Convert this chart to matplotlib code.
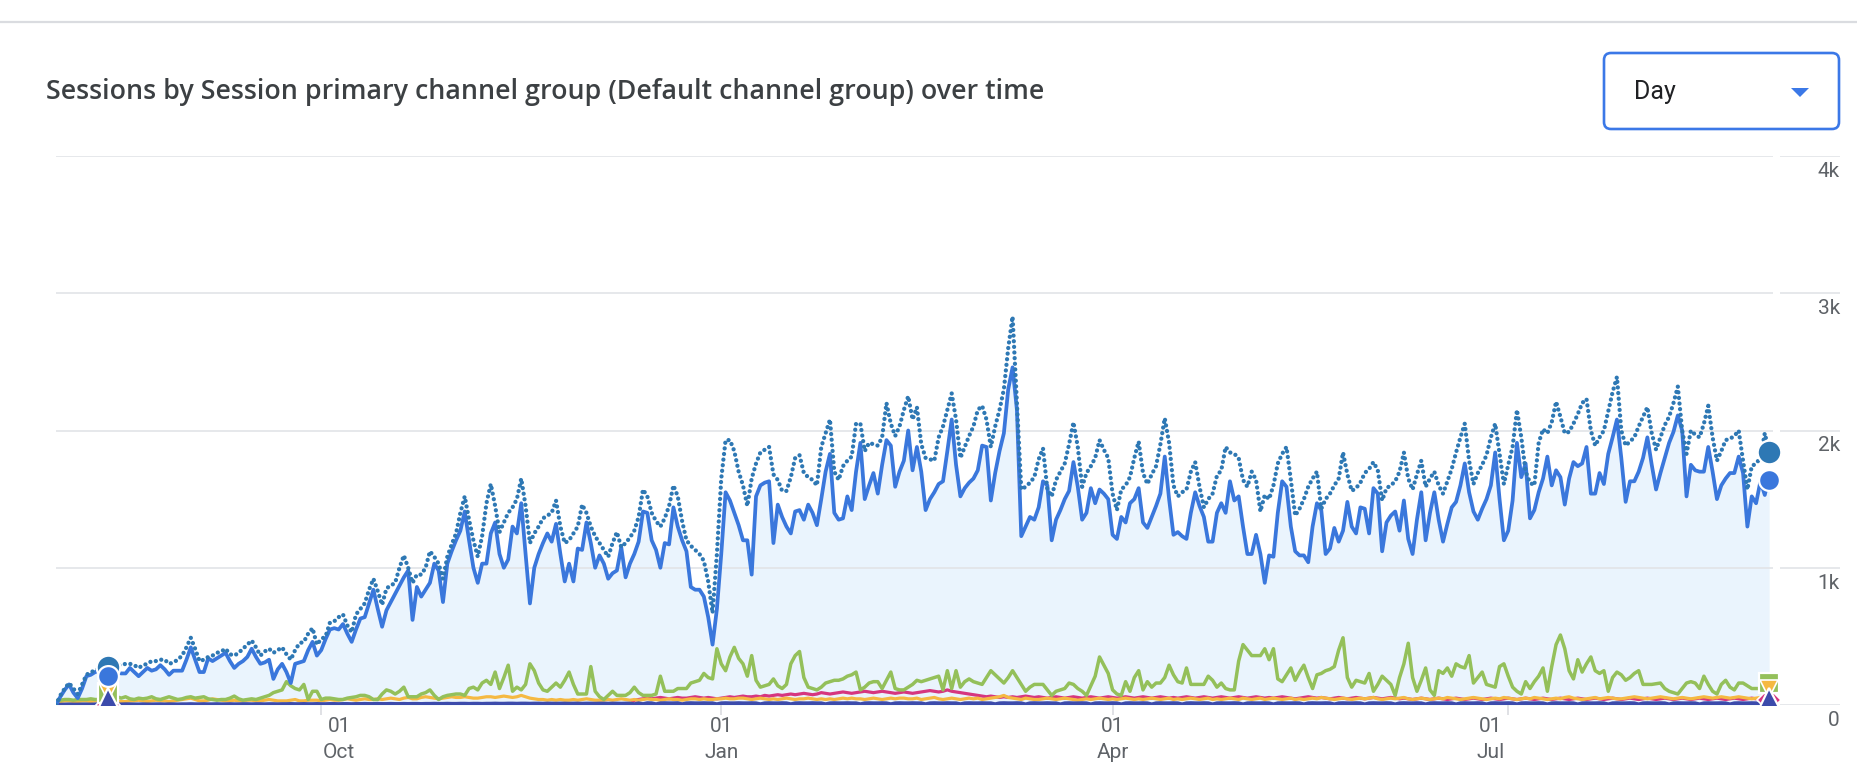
import numpy as np
import pandas as pd
import matplotlib
matplotlib.use("Agg")
import matplotlib.pyplot as plt
from matplotlib.patches import FancyBboxPatch, Polygon
from matplotlib.lines import Line2D
from matplotlib.transforms import IdentityTransform

start = "2022-08-01"

# daily sessions
organic = [
    0, 60, 110, 150, 90, 50, 120, 210, 220, 240, 250, 250, 240, 250, 240, 230, 230, 270, 240, 210,
    240, 270, 250, 260, 290, 260, 220, 250, 250, 250, 330, 420, 330, 240, 240, 340, 320, 340, 360, 380,
    320, 270, 300, 320, 350, 410, 350, 300, 310, 330, 190, 260, 300, 240, 160, 300, 310, 320, 400, 460,
    360, 400, 480, 550, 560, 550, 590, 520, 460, 550, 630, 640, 740, 840, 700, 570, 690, 750, 810, 870,
    930, 980, 620, 860, 790, 840, 890, 1030, 980, 750, 1030, 1120, 1200, 1270, 1410, 1200, 1000, 890, 1030, 1030,
    1250, 1330, 1100, 1000, 1060, 1300, 1250, 1470, 1100, 740, 1000, 1100, 1180, 1250, 1190, 1320, 1100, 900, 1030, 900,
    1140, 1130, 1330, 1180, 1000, 1090, 1030, 920, 960, 980, 1150, 930, 1030, 1100, 1190, 1410, 1400, 1200, 1130, 1000,
    1180, 1170, 1440, 1300, 1200, 1120, 860, 840, 840, 790, 640, 440, 700, 1100, 1550, 1490, 1400, 1310, 1200, 1200,
    950, 1520, 1600, 1620, 1630, 1180, 1460, 1370, 1300, 1250, 1410, 1420, 1350, 1460, 1400, 1310, 1500, 1700, 1830, 1400,
    1350, 1360, 1520, 1420, 1700, 1910, 1500, 1600, 1690, 1540, 1750, 1930, 1890, 1590, 1700, 1780, 2000, 1710, 1880, 1700,
    1420, 1500, 1550, 1610, 1630, 1850, 2080, 1750, 1520, 1580, 1620, 1650, 1710, 1890, 1880, 1490, 1690, 1850, 1980, 2300,
    2460, 2150, 1230, 1300, 1370, 1350, 1440, 1630, 1600, 1200, 1350, 1420, 1500, 1560, 1770, 1590, 1350, 1400, 1580, 1470,
    1570, 1540, 1500, 1240, 1210, 1370, 1330, 1470, 1500, 1580, 1330, 1290, 1370, 1450, 1540, 1810, 1500, 1240, 1260, 1230,
    1210, 1400, 1550, 1450, 1370, 1190, 1190, 1400, 1470, 1400, 1630, 1490, 1520, 1300, 1100, 1100, 1240, 1100, 890, 1090,
    1080, 1400, 1630, 1590, 1300, 1120, 1090, 1090, 1040, 1300, 1470, 1420, 1100, 1140, 1290, 1190, 1270, 1480, 1300, 1250,
    1440, 1430, 1250, 1580, 1540, 1120, 1330, 1380, 1410, 1270, 1490, 1210, 1100, 1350, 1550, 1200, 1400, 1550, 1350, 1190,
    1320, 1440, 1480, 1600, 1760, 1550, 1410, 1350, 1430, 1500, 1600, 1840, 1500, 1200, 1270, 1490, 1910, 1660, 1760, 1360,
    1420, 1550, 1650, 1810, 1600, 1710, 1660, 1460, 1650, 1770, 1740, 1760, 1880, 1540, 1540, 1690, 1610, 1830, 1950, 2080,
    1800, 1480, 1630, 1630, 1700, 1800, 1950, 1750, 1570, 1690, 1800, 1910, 1990, 2110, 2000, 1520, 1750, 1710, 1700, 1700,
    1880, 1700, 1500, 1600, 1650, 1690, 1690, 1810, 1690, 1300, 1520, 1470, 1630, 1530, 1670,
]

total = [
    0, 70, 120, 160, 120, 80, 150, 220, 240, 250, 270, 280, 280, 290, 290, 290, 300, 300, 290, 270,
    290, 300, 320, 320, 330, 330, 300, 310, 330, 360, 420, 490, 410, 320, 330, 350, 360, 380, 390, 410,
    370, 360, 380, 410, 440, 470, 420, 360, 390, 410, 380, 400, 420, 370, 330, 400, 450, 460, 520, 560,
    440, 480, 500, 600, 610, 640, 660, 580, 530, 660, 700, 740, 840, 920, 830, 730, 850, 870, 890, 1000,
    1090, 1000, 890, 950, 950, 1000, 1120, 1080, 1030, 920, 1080, 1170, 1250, 1400, 1520, 1350, 1200, 1080, 1230, 1470,
    1610, 1450, 1260, 1330, 1400, 1440, 1500, 1650, 1450, 1180, 1250, 1300, 1360, 1380, 1400, 1490, 1300, 1180, 1200, 1250,
    1300, 1460, 1400, 1300, 1230, 1180, 1130, 1080, 1180, 1260, 1150, 1180, 1220, 1270, 1370, 1570, 1520, 1400, 1340, 1300,
    1360, 1450, 1600, 1520, 1340, 1200, 1160, 1130, 1100, 1050, 900, 670, 1100, 1650, 1930, 1930, 1850, 1700, 1600, 1450,
    1650, 1760, 1840, 1860, 1880, 1680, 1640, 1560, 1560, 1660, 1800, 1820, 1690, 1660, 1640, 1600, 1880, 1980, 2080, 1700,
    1640, 1740, 1780, 1810, 2050, 2050, 1850, 1910, 1900, 1890, 1950, 2200, 2050, 1960, 2030, 2150, 2250, 2080, 2170, 1900,
    1800, 1790, 1780, 1950, 2030, 2150, 2270, 2080, 1800, 1880, 1960, 2030, 2150, 2180, 2080, 1880, 2030, 2150, 2300, 2600,
    2830, 2200, 1570, 1590, 1620, 1660, 1790, 1870, 1570, 1520, 1640, 1700, 1760, 1900, 2060, 1880, 1590, 1690, 1740, 1800,
    1930, 1860, 1800, 1540, 1420, 1570, 1600, 1660, 1800, 1920, 1690, 1610, 1680, 1740, 1900, 2090, 1910, 1600, 1520, 1550,
    1570, 1700, 1770, 1590, 1440, 1500, 1540, 1670, 1710, 1880, 1840, 1830, 1800, 1640, 1590, 1700, 1640, 1410, 1530, 1500,
    1600, 1760, 1830, 1880, 1640, 1380, 1430, 1500, 1590, 1650, 1700, 1430, 1500, 1540, 1600, 1650, 1840, 1680, 1560, 1580,
    1620, 1690, 1720, 1770, 1710, 1490, 1580, 1600, 1630, 1700, 1840, 1650, 1570, 1680, 1780, 1590, 1650, 1700, 1600, 1540,
    1630, 1720, 1840, 1950, 2050, 1780, 1610, 1690, 1750, 1820, 1950, 2050, 1830, 1610, 1750, 1880, 2150, 1950, 1700, 1620,
    1600, 1910, 2010, 1980, 2060, 2210, 2100, 1980, 1990, 2050, 2120, 2200, 2230, 2000, 1890, 1950, 2000, 2140, 2280, 2390,
    2000, 1890, 1920, 1950, 2030, 2100, 2170, 1980, 1860, 1950, 2040, 2100, 2200, 2320, 2000, 1830, 2000, 1970, 1950, 2050,
    2180, 1950, 1780, 1850, 1930, 1940, 1960, 2000, 1780, 1570, 1740, 1760, 1800, 1980, 1840,
]

direct = [
    30, 35, 40, 40, 35, 40, 40, 40, 45, 40, 40, 45, 50, 60, 60, 50, 60, 45, 40, 50,
    45, 50, 60, 45, 40, 50, 60, 50, 40, 45, 55, 60, 50, 55, 60, 45, 40, 35, 40, 40,
    50, 65, 45, 35, 40, 45, 40, 50, 60, 70, 90, 100, 110, 170, 140, 120, 110, 150, 40, 100,
    100, 40, 50, 50, 45, 40, 40, 50, 55, 60, 70, 70, 60, 40, 40, 80, 110, 100, 80, 100,
    130, 60, 60, 60, 80, 90, 110, 70, 40, 60, 70, 75, 80, 80, 70, 120, 130, 110, 160, 180,
    150, 240, 120, 200, 290, 100, 130, 110, 150, 300, 250, 160, 110, 100, 130, 160, 130, 180, 240, 150,
    80, 80, 80, 280, 100, 60, 40, 70, 100, 70, 70, 70, 90, 130, 90, 70, 70, 70, 80, 210,
    100, 100, 100, 120, 120, 120, 160, 170, 180, 230, 200, 190, 410, 300, 250, 350, 420, 340, 300, 210,
    360, 180, 130, 140, 150, 190, 140, 120, 150, 300, 360, 390, 200, 130, 120, 110, 130, 160, 170, 180,
    180, 190, 210, 220, 240, 110, 130, 160, 170, 170, 120, 180, 240, 120, 110, 110, 130, 150, 180, 170,
    180, 190, 200, 210, 110, 250, 120, 250, 130, 170, 190, 170, 160, 150, 200, 250, 220, 190, 160, 200,
    250, 200, 150, 100, 130, 150, 150, 150, 110, 70, 100, 110, 120, 160, 150, 120, 100, 70, 140, 210,
    350, 290, 230, 110, 80, 70, 170, 100, 200, 250, 110, 170, 130, 160, 160, 200, 290, 220, 170, 160,
    270, 150, 150, 150, 150, 210, 180, 130, 160, 120, 110, 110, 320, 440, 400, 360, 360, 360, 410, 330,
    410, 190, 170, 220, 270, 180, 240, 290, 200, 120, 220, 230, 250, 260, 280, 400, 490, 200, 130, 180,
    170, 160, 230, 100, 150, 210, 180, 150, 70, 200, 300, 450, 200, 100, 180, 270, 110, 70, 250, 230,
    270, 210, 300, 280, 270, 360, 160, 200, 240, 150, 140, 130, 280, 300, 210, 130, 100, 80, 170, 120,
    170, 210, 270, 100, 280, 440, 510, 410, 250, 190, 330, 240, 300, 350, 250, 230, 250, 100, 200, 240,
    220, 180, 200, 230, 250, 150, 150, 150, 155, 160, 120, 100, 90, 80, 120, 160, 170, 160, 120, 210,
    150, 100, 80, 150, 180, 130, 110, 160, 160, 140, 120, 120, 120, 130, 120,
]

referral = [
    20, 25, 30, 30, 25, 25, 30, 30, 25, 30, 30, 25, 25, 30, 30, 25, 25, 30, 30, 35,
    30, 25, 30, 35, 30, 30, 25, 30, 35, 40, 45, 50, 40, 30, 30, 35, 45, 40, 35, 30,
    30, 35, 30, 30, 35, 35, 30, 30, 35, 40, 35, 30, 30, 30, 35, 40, 30, 30, 35, 35,
    35, 30, 35, 40, 35, 35, 40, 45, 40, 35, 40, 45, 40, 40, 45, 40, 45, 50, 45, 40,
    50, 55, 45, 45, 55, 60, 55, 50, 45, 50, 55, 60, 55, 55, 60, 55, 50, 50, 55, 60,
    60, 55, 60, 65, 60, 55, 60, 70, 60, 50, 45, 40, 40, 35, 40, 35, 40, 35, 35, 40,
    35, 40, 45, 40, 35, 35, 35, 40, 35, 40, 45, 40, 35, 40, 35, 40, 45, 40, 40, 35,
    40, 45, 40, 40, 35, 40, 45, 45, 40, 45, 40, 40, 45, 45, 50, 45, 45, 50, 50, 45,
    40, 45, 50, 45, 40, 45, 40, 45, 50, 45, 40, 45, 45, 50, 45, 40, 45, 40, 45, 40,
    45, 50, 45, 50, 45, 45, 40, 45, 50, 45, 40, 45, 50, 45, 50, 50, 45, 45, 50, 40,
    45, 50, 55, 45, 40, 45, 50, 45, 40, 45, 50, 45, 50, 40, 45, 50, 55, 60, 70, 55,
    50, 45, 40, 50, 45, 40, 40, 45, 50, 45, 40, 45, 50, 45, 40, 35, 40, 45, 40, 45,
    50, 45, 40, 45, 40, 45, 50, 45, 40, 45, 40, 45, 50, 45, 40, 45, 50, 40, 45, 40,
    45, 50, 45, 40, 45, 50, 40, 45, 40, 45, 50, 45, 40, 50, 45, 40, 45, 50, 40, 45,
    50, 45, 40, 45, 50, 40, 45, 40, 45, 50, 45, 55, 50, 45, 40, 45, 50, 45, 40, 45,
    50, 45, 50, 55, 45, 40, 45, 50, 45, 50, 55, 45, 40, 45, 50, 45, 40, 45, 50, 45,
    55, 50, 45, 40, 45, 50, 55, 50, 45, 40, 45, 50, 45, 55, 50, 45, 40, 45, 50, 45,
    55, 50, 45, 40, 45, 50, 45, 55, 60, 50, 45, 40, 45, 50, 55, 45, 50, 55, 50, 45,
    45, 50, 55, 60, 55, 50, 45, 50, 55, 60, 55, 50, 45, 50, 55, 50, 45, 50, 55, 60,
    55, 50, 55, 60, 55, 50, 55, 60, 55, 50, 45, 50, 55, 50, 50,
]

social = [0] * 133 + [
    35, 40, 45, 50, 45, 50, 55, 50, 45, 50, 55, 50, 50, 55, 60, 55, 50, 55, 50, 45, 50, 55, 60, 55, 60, 65, 60,
    60, 65, 60, 70, 65, 70, 75, 70, 75, 80, 75, 80, 85, 80, 75, 80, 90, 85, 80, 85,
    90, 95, 90, 85, 90, 95, 100, 95, 90, 95, 100, 95, 90, 85, 90, 95, 90, 85, 90, 95,
    100, 105, 100, 95, 100, 110, 100, 95, 90, 85, 80, 75, 70, 65, 60, 65, 60, 55, 60, 55,
    60, 55, 60, 65, 60, 55, 60, 55, 50, 55, 60, 55, 50, 55, 60, 55, 50, 55, 60, 55,
    50, 55, 60, 55, 50, 55, 60, 55, 50, 55, 60, 55, 50, 55, 60, 55, 50, 55, 50, 55,
    60, 55, 50, 55, 60, 55, 50, 55, 60, 55, 50, 55, 60, 55, 50, 55, 60, 55, 50, 55,
    50, 55, 60, 55, 50, 45, 50, 55, 60, 55, 50, 55, 50, 45, 50, 55, 50, 45, 50, 55,
    50, 45, 50, 55, 50, 45, 50, 55, 50, 45, 50, 45, 40, 45, 50, 45, 40, 45, 50, 45,
    40, 45, 50, 45, 40, 45, 50, 45, 40, 45, 50, 45, 40, 45, 50, 45, 40, 45, 50, 45,
    40, 45, 50, 45, 40, 45, 50, 45, 40, 45, 50, 45, 40, 45, 50, 45, 40, 45, 50, 45,
    40, 45, 50, 45, 40, 45, 50, 45, 40, 45, 50, 45, 40, 45, 50, 45, 40, 45, 50, 45,
    40, 45, 50, 45, 40, 45, 50, 45, 40, 45, 50, 45, 40, 40, 35,
]

other = [
    0, 2, 3, 4, 3, 3, 4, 4, 3, 4, 5, 4, 4, 5, 4, 4, 5, 5, 4, 4,
    5, 4, 4, 5, 5, 4, 5, 5, 4, 5, 5, 6, 5, 5, 6, 5, 5, 6, 5, 5,
    6, 5, 5, 6, 6, 5, 6, 6, 5, 6, 6, 5, 6, 6, 7, 6, 6, 7, 6, 6,
    7, 6, 6, 7, 7, 6, 7, 7, 6, 7, 7, 8, 7, 7, 8, 7, 7, 8, 7, 7,
    8, 7, 8, 8, 7, 8, 8, 9, 8, 8, 9, 8, 8, 9, 9, 8, 9, 9, 8, 9,
    9, 10, 9, 9, 10, 10, 9, 10, 10, 9, 10, 10, 9, 10, 10, 9, 10, 10, 9, 10,
    10, 9, 10, 10, 9, 10, 10, 9, 10, 10, 9, 10, 10, 5, 12, 6, 13, 12, 5, 12,
    13, 12, 12, 13, 5, 12, 13, 12, 12, 13, 12, 12, 5, 12, 13, 12, 12, 13, 12, 12,
    13, 12, 5, 12, 13, 12, 12, 13, 12, 5, 12, 13, 12, 12, 13, 12, 12, 5, 12, 13,
    12, 12, 13, 12, 12, 5, 12, 13, 12, 12, 13, 12, 5, 12, 13, 12, 12, 13, 12, 12,
    5, 12, 13, 12, 12, 13, 12, 12, 5, 12, 13, 12, 12, 13, 12, 12, 5, 12, 13, 12,
    12, 13, 12, 4, 12, 13, 12, 12, 13, 12, 12, 4, 12, 13, 12, 12, 13, 12, 4, 12,
    13, 12, 12, 13, 12, 4, 12, 13, 12, 12, 13, 12, 4, 12, 13, 12, 12, 13, 12, 4,
    12, 13, 12, 12, 13, 12, 4, 12, 13, 12, 12, 13, 12, 4, 12, 13, 12, 12, 13, 12,
    4, 12, 13, 12, 12, 13, 12, 4, 12, 13, 12, 12, 13, 12, 4, 12, 13, 12, 12, 13,
    12, 4, 12, 13, 12, 12, 13, 12, 4, 12, 13, 12, 12, 13, 12, 4, 12, 13, 12, 12,
    13, 12, 4, 12, 13, 12, 12, 13, 12, 4, 12, 13, 12, 12, 13, 12, 4, 12, 13, 12,
    12, 13, 12, 4, 12, 13, 12, 12, 13, 12, 4, 12, 13, 12, 12, 13, 12, 4, 12, 13,
    12, 12, 13, 12, 4, 12, 13, 12, 12, 13, 12, 4, 12, 13, 12, 12, 13, 12, 4, 12,
    13, 12, 12, 13, 12, 4, 12, 13, 12, 12, 13, 12, 4, 12, 5,
]

tick_dates = ["2022-10-01", "2023-01-01", "2023-04-01", "2023-07-01"]
tick_days = ["01", "01", "01", "01"]
tick_months = ["Oct", "Jan", "Apr", "Jul"]
y_ticks = [0, 1000, 2000, 3000, 4000]
y_labels = ["0", "1k", "2k", "3k", "4k"]
title = "Sessions by Session primary channel group (Default channel group) over time"
marker_day = 12

for name, s in [("total", total), ("direct", direct), ("referral", referral),
                ("social", social), ("other", other)]:
    if len(s) != len(organic):
        raise ValueError(f"{name}: {len(s)} vs {len(organic)}")

W, H = 1858, 780
fig = plt.figure(figsize=(W / 100, H / 100), dpi=100)
fig.patch.set_facecolor("white")


def fx(px):
    return px / W


def fy(py):
    return 1 - py / H


ax = fig.add_axes([fx(56), fy(705), fx(1840) - fx(56), fy(156) - fy(705)])
dates = pd.date_range(start, periods=len(organic), freq="D")
d0 = dates[0]
ax.set_xlim(d0, d0 + pd.Timedelta(days=410.3))
ax.set_ylim(0, 4000)
for sp in ax.spines.values():
    sp.set_visible(False)

grid_c = "#e2e4e7"
ax.hlines(y_ticks, d0, d0 + pd.Timedelta(days=394.9), color=grid_c, lw=1.2, zorder=1.5)
ax.hlines(y_ticks, d0 + pd.Timedelta(days=396.6), d0 + pd.Timedelta(days=410.3),
          color=grid_c, lw=1.2, zorder=1.5)

ax.fill_between(dates, organic, 0, color="#eaf4fd", lw=0, zorder=1)

ax.plot(dates, other, color="#3c4bab", lw=2.9, zorder=3.3, solid_joinstyle="round")
ax.plot(dates, referral, color="#f5b942", lw=2.3, zorder=3.2, solid_joinstyle="round")
ax.plot(dates, social, color="#d6367f", lw=2.3, zorder=3.1, solid_joinstyle="round")
ax.plot(dates, direct, color="#94c05a", lw=2.5, zorder=3.4, solid_joinstyle="round")
ax.plot(dates, organic, color="#3a77dc", lw=2.7, zorder=3.6, solid_joinstyle="round")
ax.plot(dates, total, color="#2e78b4", lw=3.1, zorder=3.8,
        linestyle=(0, (0.01, 1.3)), dash_capstyle="round")


def markers(i):
    x = dates[i]
    ax.plot(x, social[i], marker="D", ms=12, color="#d6367f", mec="white", mew=1.2, zorder=5)
    ax.plot(x, other[i] + 30, marker="^", ms=18, color="#3c4bab", mec="white", mew=1.6, zorder=5.4)
    ax.plot(x, referral[i] + 70, marker="v", ms=13, color="#f5b942", mec="white", mew=1.2, zorder=5.2)
    ax.plot(x, direct[i] + 40, marker="s", ms=15, color="#94c05a", mec="white", mew=1.6, zorder=5.1)
    ax.plot(x, total[i], marker="o", ms=17, color="#2e78b4", mec="white", mew=1.6, zorder=5.5)
    ax.plot(x, organic[i] - 30, marker="o", ms=15, color="#3a77dc", mec="white", mew=1.6, zorder=5.6)


markers(marker_day)
markers(len(organic) - 1)

ax.set_yticks([])
ax.set_xticks(pd.to_datetime(tick_dates))
ax.set_xticklabels([])
ax.tick_params(axis="x", length=7, width=1.2, color="#dadce0")

# GA nudges the outer date labels inwards
label_shift = [18, 0, 0, -18]
for d, day, mon, dx in zip(pd.to_datetime(tick_dates), tick_days, tick_months, label_shift):
    ax.annotate(f"{day}\n{mon}", xy=(d, 0), xycoords=("data", "axes fraction"),
                xytext=(dx * 0.72, -9), textcoords="offset points", ha="center", va="top",
                fontsize=15, color="#5f6368", family="Roboto", linespacing=1.4)

for v, s in zip(y_ticks, y_labels):
    ax.annotate(s, xy=(1, v), xycoords=("axes fraction", "data"), xytext=(0, -11),
                textcoords="offset points", ha="right", va="center",
                fontsize=15, color="#5f6368", family="Roboto")

# header
fig.add_artist(Line2D([0, 1], [fy(22), fy(22)], color="#dadce0", lw=1.6))
fig.text(fx(46), fy(92), title, fontsize=19.3, color="#3c4043", family="Open Sans",
         fontweight="semibold", va="center", ha="left")

box = FancyBboxPatch((1604, H - 129), 235, 76, boxstyle="round,pad=0,rounding_size=7",
                     transform=IdentityTransform(), fc="white", ec="#3b78e7", lw=1.9)
fig.add_artist(box)
fig.text(fx(1634), fy(92), "Day", fontsize=18, color="#202124", family="Roboto",
         va="center", ha="left")
tri = Polygon([(1791, H - 88), (1809, H - 88), (1800, H - 97)], closed=True,
              transform=IdentityTransform(), fc="#3b78e7", ec="none")
fig.add_artist(tri)

fig.savefig("out.png", dpi=100, facecolor="white")
